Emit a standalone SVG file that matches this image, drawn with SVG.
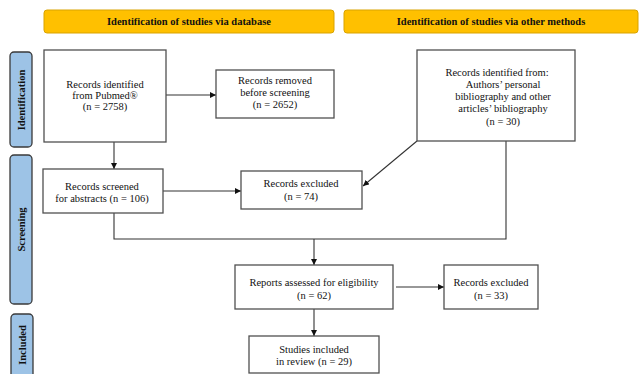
<svg xmlns="http://www.w3.org/2000/svg" width="640" height="374" viewBox="0 0 640 374">
<style>
.hdr{fill:#FFC000;stroke:#D9A300;stroke-width:1}
.side{fill:#9DC3E6;stroke:#3a3a3a;stroke-width:1.3}
.box{fill:#fff;stroke:#505050;stroke-width:1.3}
text{font-family:'Liberation Serif', 'DejaVu Serif', serif;font-size:10.5px;fill:#111;text-anchor:middle}
.b{font-weight:bold}
.ln{fill:none;stroke:#333;stroke-width:1.1}
.ar{fill:none;stroke:#333;stroke-width:1.1;marker-end:url(#ah)}
</style>
<defs>
<marker id="ah" viewBox="0 0 10 10" refX="10" refY="5" markerWidth="6" markerHeight="6" orient="auto" markerUnits="userSpaceOnUse"><path d="M0,0 L10,5 L0,10 z" fill="#111"/></marker>
</defs>
<rect width="640" height="374" fill="#fff"/>
<g id="hdr-database"><rect class="hdr" x="44" y="10" width="290" height="23" rx="3"/><text class="b" x="189" y="25">Identification of studies via database</text></g>
<g id="hdr-other"><rect class="hdr" x="344" y="10" width="294" height="23" rx="3"/><text class="b" x="491" y="25">Identification of studies via other methods</text></g>
<g id="side-identification"><rect class="side" x="10" y="52" width="22" height="95" rx="4"/><text class="b" transform="translate(24.5,100) rotate(-90)" x="0" y="0">Identification</text></g>
<g id="side-screening"><rect class="side" x="10" y="155" width="22" height="149" rx="4"/><text class="b" transform="translate(24.5,229.5) rotate(-90)" x="0" y="0">Screening</text></g>
<g id="side-included"><rect class="side" x="11" y="314" width="22" height="72" rx="4"/><text class="b" transform="translate(25.5,345) rotate(-90)" x="0" y="0">Included</text></g>
<g id="connectors">
<path class="ar" d="M166,95 H216"/>
<path class="ar" d="M114,142 V169"/>
<path class="ar" d="M163,191 H241"/>
<path class="ar" d="M417,141 L363,186"/>
<path class="ln" d="M114,213 V239 H506 V141"/>
<path class="ar" d="M314,239 V265"/>
<path class="ar" d="M396,287 H444"/>
<path class="ar" d="M314,309 V336"/>
</g>
<g id="n-pubmed"><rect class="box" x="44" y="50" width="122" height="92"/><text x="105" y="87.5">Records identified</text><text x="105" y="98.5">from Pubmed®</text><text x="105" y="109.5">(n = 2758)</text></g>
<g id="n-removed"><rect class="box" x="216" y="70" width="118" height="48"/><text x="275" y="84">Records removed</text><text x="275" y="96">before screening</text><text x="275" y="107.5">(n = 2652)</text></g>
<g id="n-other"><rect class="box" x="417" y="50" width="158" height="91"/><text x="497" y="76">Records identified from:</text><text x="503" y="88">Authors’ personal</text><text x="503" y="100.2">bibliography and other</text><text x="503" y="112.4">articles’ bibliography</text><text x="503" y="124.6">(n = 30)</text></g>
<g id="n-screened"><rect class="box" x="43" y="169" width="120" height="44"/><text x="102" y="189.5">Records screened</text><text x="102" y="201.5">for abstracts (n = 106)</text></g>
<g id="n-excluded74"><rect class="box" x="241" y="171" width="121" height="38"/><text x="301" y="186.5">Records excluded</text><text x="301" y="199.5">(n = 74)</text></g>
<g id="n-reports"><rect class="box" x="235" y="265" width="158" height="44"/><text x="314" y="285.5">Reports assessed for eligibility</text><text x="314" y="298.5">(n = 62)</text></g>
<g id="n-excluded33"><rect class="box" x="444" y="265" width="94" height="44"/><text x="491" y="285.5">Records excluded</text><text x="491" y="298.5">(n = 33)</text></g>
<g id="n-studies"><rect class="box" x="249" y="336" width="130" height="37"/><text x="314" y="352.5">Studies included</text><text x="314" y="364.5">in review (n = 29)</text></g>
</svg>
